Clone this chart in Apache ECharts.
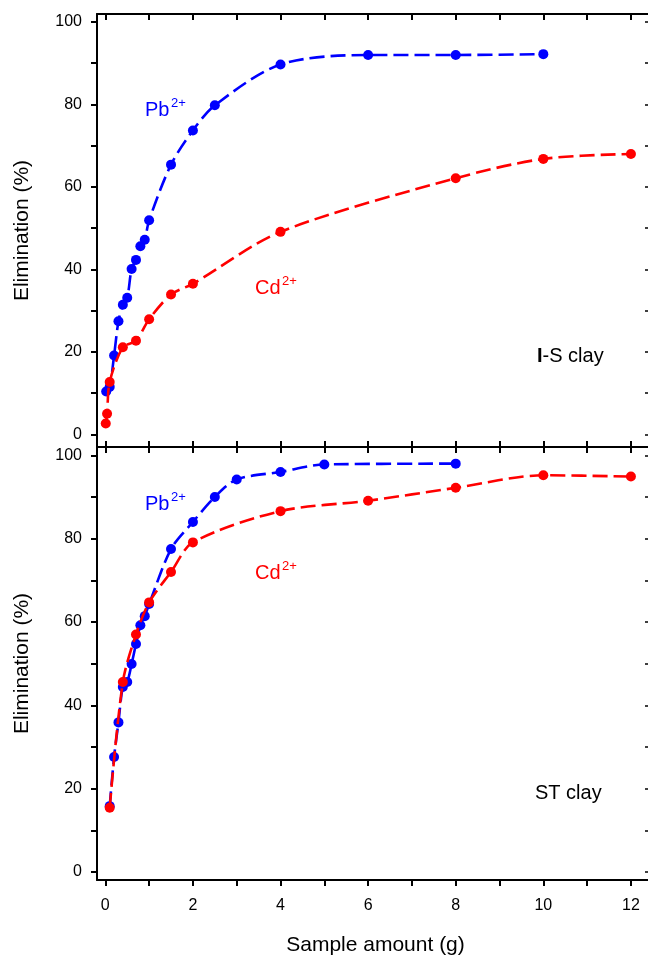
<!DOCTYPE html>
<html>
<head>
<meta charset="utf-8">
<script src="https://cdn.jsdelivr.net/npm/echarts@6/dist/echarts.min.js"></script>
<style>
  html, body { margin: 0; padding: 0; background: #fff; }
  #chart { width: 648px; height: 958px; }
</style>
</head>
<body>
<div id="chart"></div>
<script>
// Sample amount (g) vs. elimination (%) for two clays

// I-S clay, Pb2+
const isPbX = [0.02, 0.1, 0.2, 0.3, 0.4, 0.5, 0.6, 0.7, 0.8, 0.9, 1.0, 1.5, 2, 2.5, 4, 6, 8, 10];
const isPbY = [10.4, 11.5, 19.1, 27.4, 31.4, 33.1, 40.1, 42.3, 45.6, 47.2, 51.9, 65.4, 73.7, 79.8, 89.7, 92.0, 92.0, 92.2];
// I-S clay, Cd2+
const isCdX = [0.01, 0.04, 0.1, 0.4, 0.7, 1.0, 1.5, 2, 4, 8, 10, 12];
const isCdY = [2.6, 5.0, 12.7, 21.1, 22.7, 27.9, 33.9, 36.5, 49.1, 62.1, 66.8, 68.0];
// ST clay, Pb2+
const stPbX = [0.1, 0.2, 0.3, 0.4, 0.5, 0.6, 0.7, 0.8, 0.9, 1.0, 1.5, 2, 2.5, 3, 4, 5, 8];
const stPbY = [15.8, 27.6, 35.9, 44.4, 45.6, 49.9, 54.7, 59.2, 61.4, 64.3, 77.5, 84.0, 90.0, 94.2, 96.0, 97.8, 98.0];
// ST clay, Cd2+
const stCdX = [0.1, 0.4, 0.7, 1.0, 1.5, 2, 4, 6, 8, 10, 12];
const stCdY = [15.4, 45.6, 57.0, 64.7, 72.0, 79.1, 86.6, 89.1, 92.2, 95.2, 94.9];

// Tick positions and labels
const xTicks = [0, 1, 2, 3, 4, 5, 6, 7, 8, 9, 10, 11, 12];
const xLabels = [0, 2, 4, 6, 8, 10, 12];
const yTicks = [0, 10, 20, 30, 40, 50, 60, 70, 80, 90, 100];
const yLabels = [0, 20, 40, 60, 80, 100];

const FONT = '"Liberation Sans", Arial, Helvetica, sans-serif';
const BLUE = '#0000ff';
const RED = '#ff0000';
const BLACK = '#000';

const pairs = (xs, ys) => xs.map((x, i) => [x, ys[i]]);

const X_MIN = -0.19, X_MAX = 12.39;
const TOP_Y = [-3.08, 101.94];
const BOT_Y = [-1.92, 101.99];

const axisLine = { show: true, onZero: false, lineStyle: { color: BLACK, width: 2 } };

function xAxisDef(grid, position, tickInside, withLabels) {
  const a = {
    type: 'value', gridIndex: grid, position: position,
    min: X_MIN, max: X_MAX,
    axisLine: axisLine,
    axisTick: { show: true, inside: tickInside, length: 6, customValues: xTicks,
                lineStyle: { color: BLACK, width: 2 } },
    axisLabel: { show: withLabels, customValues: xLabels, margin: 18,
                 fontSize: 16, color: BLACK, fontFamily: FONT },
    splitLine: { show: false }
  };
  if (withLabels) {
    a.name = 'Sample amount (g)';
    a.nameLocation = 'middle';
    a.nameGap = 55;
    a.nameTextStyle = { fontSize: 21, color: BLACK, fontFamily: FONT, padding: [0, 0, 0, 6] };
  }
  return a;
}

function yAxisDef(grid, range, left) {
  if (left) {
    return {
      type: 'value', gridIndex: grid, position: 'left',
      min: range[0], max: range[1],
      name: 'Elimination (%)', nameLocation: 'middle', nameGap: 64, nameRotate: 90,
      nameTextStyle: { fontSize: 21, color: BLACK, fontFamily: FONT },
      axisLine: axisLine,
      axisTick: { show: true, inside: false, length: 6, customValues: yTicks,
                  lineStyle: { color: BLACK, width: 2 } },
      axisLabel: { show: true, customValues: yLabels, margin: 15,
                   fontSize: 16, color: BLACK, fontFamily: FONT },
      splitLine: { show: false }
    };
  }
  return {
    type: 'value', gridIndex: grid, position: 'right',
    min: range[0], max: range[1],
    axisLine: { show: false, onZero: false },
    axisTick: { show: true, inside: true, length: 3, customValues: yTicks,
                lineStyle: { color: BLACK, width: 1.5 } },
    axisLabel: { show: false },
    splitLine: { show: false }
  };
}

function curve(name, xs, ys, color, xi, yi, z) {
  return {
    name: name, type: 'line', xAxisIndex: xi, yAxisIndex: yi,
    data: pairs(xs, ys),
    smooth: 0.3,
    symbol: 'circle', symbolSize: 10,
    itemStyle: { color: color },
    lineStyle: { color: color, width: 2.6, type: [15, 6] },
    z: z, silent: true, animation: false
  };
}

function txt(x, y, text, size, color) {
  return {
    type: 'text', x: x, y: y, silent: true,
    style: { text: text, fill: color, font: size + 'px ' + FONT,
             textAlign: 'left', textVerticalAlign: 'middle' }
  };
}

const option = {
  backgroundColor: '#fff',
  animation: false,
  grid: [
    { left: 97, right: 0, top: 14, height: 433, outerBoundsMode: 'none' },
    { left: 97, right: 0, top: 447, height: 433, outerBoundsMode: 'none' }
  ],
  xAxis: [
    xAxisDef(0, 'bottom', true, false),
    xAxisDef(0, 'top', true, false),
    xAxisDef(1, 'bottom', false, true),
    xAxisDef(1, 'top', true, false)
  ],
  yAxis: [
    yAxisDef(0, TOP_Y, true),
    yAxisDef(0, TOP_Y, false),
    yAxisDef(1, BOT_Y, true),
    yAxisDef(1, BOT_Y, false)
  ],
  series: [
    curve('I-S Pb', isPbX, isPbY, BLUE, 0, 0, 2),
    curve('I-S Cd', isCdX, isCdY, RED, 0, 0, 3),
    curve('ST Pb', stPbX, stPbY, BLUE, 2, 2, 2),
    curve('ST Cd', stCdX, stCdY, RED, 2, 2, 3)
  ],
  graphic: [
    // ion labels, upper panel
    txt(145, 110, 'Pb', 20, BLUE),
    txt(171, 103, '2+', 13, BLUE),
    txt(255, 288, 'Cd', 20, RED),
    txt(282, 281, '2+', 13, RED),
    // ion labels, lower panel
    txt(145, 504, 'Pb', 20, BLUE),
    txt(171, 497, '2+', 13, BLUE),
    txt(255, 573, 'Cd', 20, RED),
    txt(282, 566, '2+', 13, RED),
    // clay names
    {
      type: 'text', x: 537, y: 356, silent: true,
      style: {
        text: '{b|I}-S clay', fill: BLACK, font: '20px ' + FONT,
        textAlign: 'left', textVerticalAlign: 'middle',
        rich: { b: { fontWeight: 'bold', fontSize: 20, fontFamily: FONT, fill: BLACK } }
      }
    },
    txt(535, 793, 'ST clay', 20, BLACK)
  ]
};

const chart = echarts.init(document.getElementById('chart'), null, { renderer: 'canvas' });
chart.setOption(option);
</script>
</body>
</html>
